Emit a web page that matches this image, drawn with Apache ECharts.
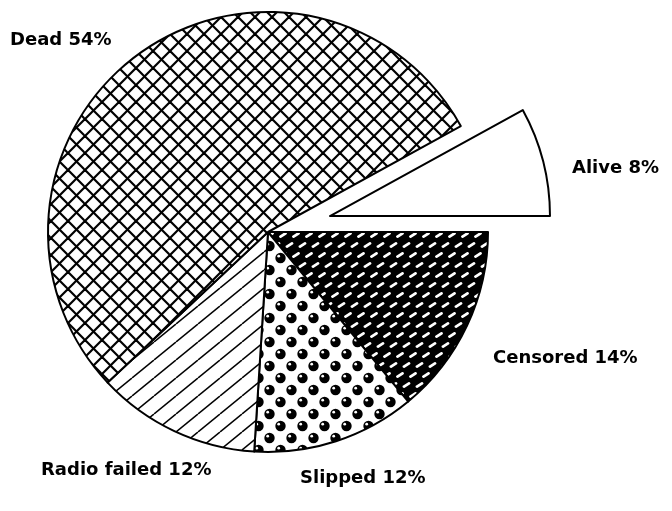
<!DOCTYPE html>
<html><head><meta charset="utf-8">
<script src="https://cdn.jsdelivr.net/npm/echarts@6/dist/echarts.min.js"></script>
<style>html,body{margin:0;padding:0;background:#fff}#c{width:672px;height:511px}</style>
</head><body><div id="c"></div>
<script>
const categories = ['Censored', 'Slipped', 'Radio failed', 'Dead', 'Alive'];
const values = [14, 12, 12, 54, 8];
const labelTexts = ['Censored 14%', 'Slipped 12%', 'Radio failed 12%', 'Dead 54%', 'Alive 8%'];
const labelAnchors = [[493, 358], [300, 478], [41, 470], [10, 40], [572, 168]];
const explodedName = 'Alive';

function makeTile(w, h, draw) {
  const c = document.createElement('canvas');
  c.width = w; c.height = h;
  const g = c.getContext('2d');
  draw(g, w, h);
  return c;
}
const crossTile = makeTile(17, 17, (g, w, h) => {
  g.fillStyle = '#fff'; g.fillRect(0, 0, w, h);
  g.strokeStyle = '#000'; g.lineWidth = 2.2;
  for (const c of [-w, 0, w]) {
    g.beginPath(); g.moveTo(c, 0); g.lineTo(c + w, h); g.stroke();
    g.beginPath(); g.moveTo(c, h); g.lineTo(c + w, 0); g.stroke();
  }
});
const brickTile = makeTile(13, 20, (g, w, h) => {
  g.fillStyle = '#000'; g.fillRect(0, 0, w, h);
  g.strokeStyle = '#fff'; g.lineWidth = 2.8; g.lineCap = 'round';
  const centers = [[3.5, 5], [10, 15]];
  for (const [cx, cy] of centers) for (const ox of [-w, 0, w]) for (const oy of [-h, 0, h]) {
    g.beginPath(); g.moveTo(cx + ox - 2.5, cy + oy + 1.6); g.lineTo(cx + ox + 2.5, cy + oy - 1.6); g.stroke();
  }
});
const dotTile = makeTile(22, 24, (g, w, h) => {
  g.fillStyle = '#fff'; g.fillRect(0, 0, w, h);
  const centers = [[5.5, 6], [16.5, 18]];
  for (const [cx, cy] of centers) for (const ox of [-w, 0, w]) for (const oy of [-h, 0, h]) {
    g.fillStyle = '#000'; g.beginPath(); g.arc(cx + ox, cy + oy, 5.2, 0, Math.PI * 2); g.fill();
    g.fillStyle = '#fff'; g.beginPath(); g.arc(cx + ox - 1.8, cy + oy - 1.8, 1.4, 0, Math.PI * 2); g.fill();
  }
});
const lineTile = makeTile(22, 18, (g, w, h) => {
  g.fillStyle = '#fff'; g.fillRect(0, 0, w, h);
  g.strokeStyle = '#000'; g.lineWidth = 1.5;
  for (const c of [-w, 0, w]) { g.beginPath(); g.moveTo(c, h); g.lineTo(c + w, 0); g.stroke(); }
});
const fills = [
  { image: brickTile, repeat: 'repeat' },
  { image: dotTile, repeat: 'repeat' },
  { image: lineTile, repeat: 'repeat' },
  { image: crossTile, repeat: 'repeat' },
  '#ffffff'
];

const cx = 268, cy = 232, R = 220, explodeDist = 64;
const total = values.reduce((a, b) => a + b, 0);
const exIdx = categories.indexOf(explodedName);
const before = values.slice(0, exIdx).reduce((a, b) => a + b, 0);
const midDeg = -((before + values[exIdx] / 2) / total) * 360; // clockwise from 3 o'clock
const midRad = midDeg * Math.PI / 180;
const exCenter = [cx + explodeDist * Math.cos(midRad), cy - explodeDist * Math.sin(midRad)];

const baseLabel = {
  show: true,
  formatter: p => labelTexts[p.dataIndex],
  color: '#000', fontWeight: 'bold', fontSize: 18, fontFamily: 'DejaVu Sans'
};
const hidden = { color: 'rgba(0,0,0,0)', borderWidth: 0 };

const chart = echarts.init(document.getElementById('c'), null, { renderer: 'canvas' });
chart.setOption({
  backgroundColor: '#fff',
  animation: false,
  series: [{
    type: 'pie',
    center: [cx, cy],
    radius: [0, R],
    startAngle: 0,
    clockwise: true,
    avoidLabelOverlap: false,
    itemStyle: { borderColor: '#000', borderWidth: 2 },
    label: baseLabel,
    labelLine: { show: false },
    labelLayout: p => ({ x: labelAnchors[p.dataIndex][0], y: labelAnchors[p.dataIndex][1], align: 'left', verticalAlign: 'middle' }),
    emphasis: { disabled: true },
    data: categories.map((n, i) => i === exIdx
      ? { name: n, value: values[i], itemStyle: hidden, label: { show: false } }
      : { name: n, value: values[i], itemStyle: { color: fills[i] } })
  }, {
    type: 'pie',
    center: exCenter,
    radius: [0, R],
    startAngle: 0,
    clockwise: true,
    avoidLabelOverlap: false,
    silent: true,
    itemStyle: { borderColor: '#000', borderWidth: 2 },
    label: baseLabel,
    labelLine: { show: false },
    labelLayout: p => ({ x: labelAnchors[p.dataIndex][0], y: labelAnchors[p.dataIndex][1], align: 'left', verticalAlign: 'middle' }),
    emphasis: { disabled: true },
    data: categories.map((n, i) => i === exIdx
      ? { name: n, value: values[i], itemStyle: { color: fills[i] } }
      : { name: n, value: values[i], itemStyle: hidden, label: { show: false } })
  }]
});
</script></body></html>
